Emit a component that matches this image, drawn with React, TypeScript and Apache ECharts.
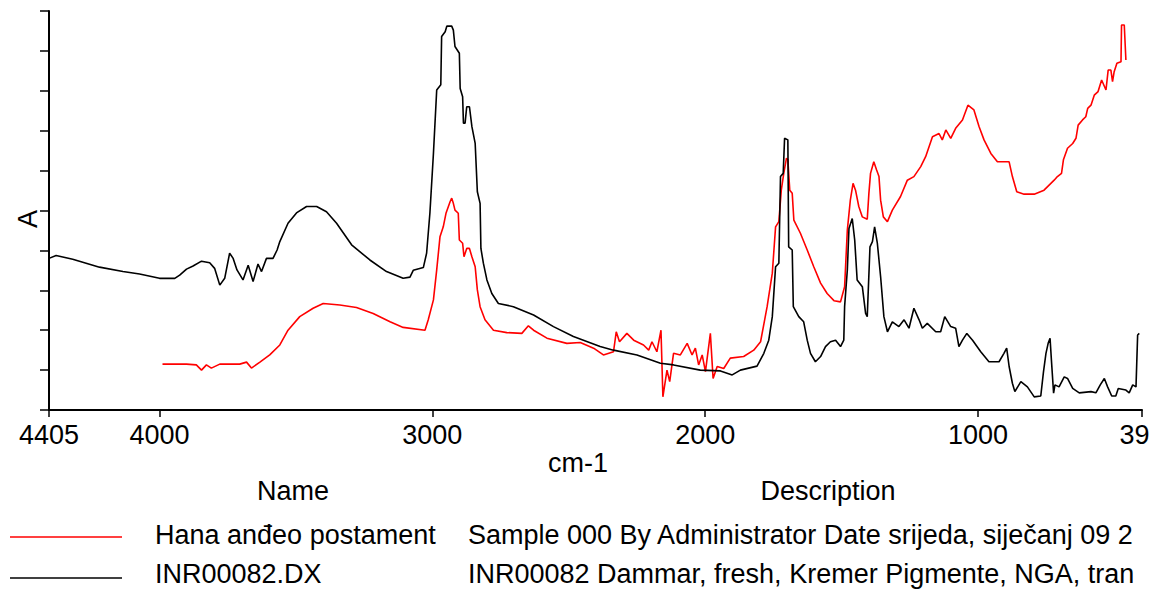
import React, { useEffect, useRef } from "react";
import * as echarts from "echarts";

// ---- data (wavenumber cm-1, absorbance in arbitrary tick units) ----
const inrWavenumbers = [
  4405, 4379, 4318, 4220, 4134, 4073, 4000, 3944, 3926, 3901, 3877, 3846, 3816, 3798, 3779, 3761, 3743, 3730, 3716, 3694,
  3675, 3657, 3639, 3626, 3608, 3584, 3569, 3559, 3529, 3498, 3461, 3424, 3388, 3351, 3296, 3229, 3168, 3107, 3082, 3070,
  3033, 3021, 3009, 2996, 2984, 2969, 2966, 2953, 2947, 2929, 2923, 2917, 2901, 2898, 2889, 2886, 2880, 2874, 2864, 2855,
  2843, 2835, 2825, 2822, 2813, 2800, 2782, 2758, 2703, 2629, 2556, 2483, 2385, 2336, 2250, 2164, 2116, 2018, 1944, 1901,
  1871, 1810, 1785, 1767, 1754, 1742, 1730, 1724, 1714, 1709, 1697, 1694, 1681, 1677, 1657, 1639, 1626, 1614, 1596, 1577,
  1559, 1541, 1522, 1504, 1492, 1489, 1479, 1473, 1461, 1452, 1443, 1424, 1412, 1406, 1396, 1387, 1379, 1369, 1357, 1345,
  1332, 1314, 1290, 1271, 1253, 1235, 1216, 1204, 1186, 1155, 1137, 1122, 1100, 1082, 1070, 1057, 1041, 1020, 990, 960,
  923, 905, 895, 886, 874, 865, 843, 819, 794, 770, 760, 751, 743, 736, 731, 723, 718, 703, 684, 672,
  653, 629, 586, 568, 552, 537, 525, 510, 495, 486, 458, 446, 433, 421, 415, 409,
];
const inrAbsorbance = [
  3.8, 3.87, 3.78, 3.58, 3.47, 3.41, 3.3, 3.3, 3.38, 3.53, 3.61, 3.73, 3.69, 3.55, 3.13, 3.3, 3.93, 3.8, 3.51, 3.26,
  3.63, 3.22, 3.66, 3.47, 3.8, 3.8, 4.01, 4.22, 4.68, 4.94, 5.1, 5.1, 4.97, 4.68, 4.14, 3.76, 3.47, 3.3, 3.33, 3.5,
  3.57, 3.93, 4.93, 6.43, 8.02, 8.15, 9.36, 9.48, 9.62, 9.62, 9.52, 9.11, 8.94, 8.06, 7.85, 7.19, 7.19, 7.6, 7.6, 7.1,
  6.68, 5.47, 5.18, 4.05, 3.68, 3.26, 2.92, 2.67, 2.59, 2.38, 2.09, 1.84, 1.59, 1.5, 1.38, 1.17, 1.13, 1.0, 0.98, 0.88,
  1.0, 1.1, 1.42, 1.75, 2.34, 3.59, 3.68, 5.85, 5.93, 6.81, 6.77, 4.09, 4.01, 2.59, 2.34, 2.21, 1.75, 1.42, 1.21, 1.34,
  1.59, 1.71, 1.75, 1.59, 1.75, 2.59, 3.51, 4.55, 4.8, 4.26, 3.26, 3.09, 2.42, 2.34, 4.09, 4.22, 4.59, 4.18, 3.34, 2.34,
  1.96, 2.21, 2.09, 2.26, 2.05, 2.55, 2.26, 2.05, 2.17, 1.96, 1.96, 2.34, 2.09, 2.05, 1.59, 1.75, 1.92, 1.75, 1.46, 1.21,
  1.21, 1.42, 1.55, 1.09, 0.67, 0.46, 0.71, 0.58, 0.33, 0.35, 0.96, 1.42, 1.67, 1.8, 1.25, 0.42, 0.63, 0.58, 0.83, 0.79,
  0.54, 0.43, 0.46, 0.43, 0.63, 0.79, 0.58, 0.35, 0.35, 0.54, 0.5, 0.43, 0.63, 0.58, 1.88, 1.92,
];

const hanaWavenumbers = [
  3989, 3901, 3865, 3846, 3828, 3810, 3779, 3706, 3681, 3663, 3632, 3596, 3559, 3529, 3486, 3437, 3400, 3339, 3278, 3217,
  3155, 3107, 3027, 3015, 2996, 2984, 2972, 2960, 2950, 2935, 2929, 2923, 2917, 2905, 2901, 2889, 2884, 2874, 2864, 2855,
  2843, 2835, 2825, 2807, 2776, 2727, 2672, 2648, 2629, 2580, 2507, 2458, 2409, 2373, 2336, 2326, 2314, 2287, 2262, 2226,
  2207, 2195, 2177, 2162, 2155, 2140, 2130, 2116, 2091, 2066, 2048, 2036, 2024, 2011, 1999, 1981, 1971, 1956, 1932, 1908,
  1859, 1822, 1797, 1773, 1754, 1742, 1730, 1721, 1712, 1702, 1697, 1690, 1681, 1675, 1651, 1626, 1602, 1577, 1553, 1528,
  1504, 1489, 1479, 1468, 1458, 1449, 1437, 1424, 1406, 1400, 1394, 1382, 1372, 1363, 1357, 1347, 1332, 1314, 1284, 1259,
  1235, 1210, 1192, 1167, 1143, 1131, 1118, 1100, 1082, 1057, 1037, 1015, 996, 978, 953, 929, 886, 874, 858, 831,
  794, 758, 721, 709, 694, 687, 672, 653, 641, 633, 617, 605, 598, 586, 574, 560, 547, 531, 523, 513,
  507, 501, 491, 476, 474, 464, 458,
];
const hanaAbsorbance = [
  1.15, 1.15, 1.13, 1.0, 1.13, 1.05, 1.15, 1.15, 1.2, 1.05, 1.2, 1.38, 1.63, 2.0, 2.34, 2.55, 2.67, 2.63, 2.57, 2.42,
  2.21, 2.07, 2.0, 2.26, 2.76, 3.51, 4.34, 4.59, 4.93, 5.22, 5.31, 5.18, 5.01, 4.93, 4.26, 4.18, 3.84, 4.05, 4.05, 3.84,
  3.59, 3.01, 2.59, 2.26, 2.0, 1.94, 1.92, 2.11, 2.0, 1.8, 1.67, 1.69, 1.55, 1.38, 1.46, 1.96, 1.71, 1.92, 1.75, 1.63,
  1.5, 1.71, 1.46, 2.0, 0.33, 1.0, 0.71, 1.42, 1.38, 1.67, 1.38, 1.55, 1.13, 1.38, 0.96, 1.92, 0.79, 1.09, 1.04, 1.3,
  1.34, 1.5, 1.71, 2.59, 3.43, 4.59, 4.72, 5.51, 5.93, 6.31, 6.27, 5.51, 5.43, 4.76, 4.43, 4.01, 3.59, 3.18, 2.92, 2.74,
  2.71, 3.09, 4.51, 5.26, 5.68, 5.51, 5.1, 4.84, 4.78, 5.43, 5.93, 6.22, 6.02, 5.85, 5.26, 4.84, 4.72, 5.01, 5.35, 5.76,
  5.85, 6.1, 6.35, 6.85, 6.93, 6.77, 7.02, 6.81, 7.06, 7.27, 7.64, 7.52, 7.1, 6.77, 6.43, 6.22, 6.22, 5.85, 5.47, 5.41,
  5.41, 5.51, 5.76, 5.85, 5.93, 6.27, 6.56, 6.68, 6.81, 7.14, 7.27, 7.35, 7.56, 7.64, 7.89, 7.98, 8.27, 8.02, 8.52, 8.52,
  8.23, 8.48, 8.69, 8.73, 9.65, 9.65, 8.77,
];

const xTickValues = [4405, 4000, 3000, 2000, 1000, 399];
const xMin = 399;
const xMax = 4405;
const yMin = 0;
const yMax = 10;

const legendNames = ["Hana anđeo postament", "INR00082.DX"];
const legendDescriptions = [
  "Sample 000 By Administrator Date srijeda, siječanj 09 2",
  "INR00082 Dammar, fresh, Kremer Pigmente, NGA, tran",
];
const seriesColors = ["#ff0000", "#000000"];
const xAxisTitle = "cm-1";
const yAxisTitle = "A";
const nameHeader = "Name";
const descriptionHeader = "Description";

const FONT = '"Liberation Sans", Arial, sans-serif';
const FONT_SIZE = 27;

function pairs(xs: number[], ys: number[]) {
  return xs.map((x, i) => [x, ys[i]]);
}

export default function App() {
  const ref = useRef<HTMLDivElement>(null);
  useEffect(() => {
    if (!ref.current) return;
    const chart = echarts.init(ref.current, undefined, { renderer: "svg" });
    const textStyle = (text: string, align: string) => ({
      text,
      fill: "#000",
      fontSize: FONT_SIZE,
      fontFamily: FONT,
      textAlign: align,
      textVerticalAlign: "middle",
    });
    const rowY = [535, 574];
    const lineY = [537, 578];
    const graphic: any[] = [
      { type: "text", x: 578, y: 463, style: textStyle(xAxisTitle, "center") },
      { type: "text", x: 28, y: 219, rotation: Math.PI / 2, style: textStyle(yAxisTitle, "center") },
      { type: "text", x: 293, y: 491, style: textStyle(nameHeader, "center") },
      { type: "text", x: 828, y: 491, style: textStyle(descriptionHeader, "center") },
    ];
    legendNames.forEach((name, i) => {
      graphic.push({
        type: "line",
        shape: { x1: 10, y1: lineY[i], x2: 122, y2: lineY[i] },
        style: { stroke: seriesColors[i], lineWidth: 1.5 },
      });
      graphic.push({ type: "text", x: 155, y: rowY[i], style: textStyle(name, "left") });
      graphic.push({ type: "text", x: 468, y: rowY[i], style: textStyle(legendDescriptions[i], "left") });
    });

    chart.setOption({
      animation: false,
      backgroundColor: "#ffffff",
      grid: { left: 49, right: 7, top: 11, bottom: 179, containLabel: false, outerBoundsMode: "none" },
      xAxis: {
        type: "value",
        inverse: true,
        min: xMin,
        max: xMax,
        axisLine: { show: true, lineStyle: { color: "#000", width: 2 } },
        axisTick: { show: true, customValues: xTickValues, length: 7, lineStyle: { color: "#000", width: 1.5 } },
        axisLabel: {
          show: true,
          customValues: xTickValues,
          formatter: (v: number) => String(v),
          color: "#000",
          fontSize: FONT_SIZE,
          fontFamily: FONT,
          margin: 11,
        },
        splitLine: { show: false },
      },
      yAxis: {
        type: "value",
        min: yMin,
        max: yMax,
        interval: 1,
        axisLine: { show: true, lineStyle: { color: "#000", width: 2 } },
        axisTick: { show: true, inside: false, length: 9, lineStyle: { color: "#000", width: 1.5 } },
        axisLabel: { show: false },
        splitLine: { show: false },
      },
      series: [
        {
          name: legendNames[0],
          type: "line",
          data: pairs(hanaWavenumbers, hanaAbsorbance),
          showSymbol: false,
          lineStyle: { color: seriesColors[0], width: 1.6 },
          z: 2,
        },
        {
          name: legendNames[1],
          type: "line",
          data: pairs(inrWavenumbers, inrAbsorbance),
          showSymbol: false,
          lineStyle: { color: seriesColors[1], width: 1.6 },
          z: 3,
        },
      ],
      graphic,
    });
    return () => chart.dispose();
  }, []);
  return (
    <div
      ref={ref}
      style={{ position: "fixed", left: 0, top: 0, width: 1149, height: 589, background: "#fff" }}
    />
  );
}
